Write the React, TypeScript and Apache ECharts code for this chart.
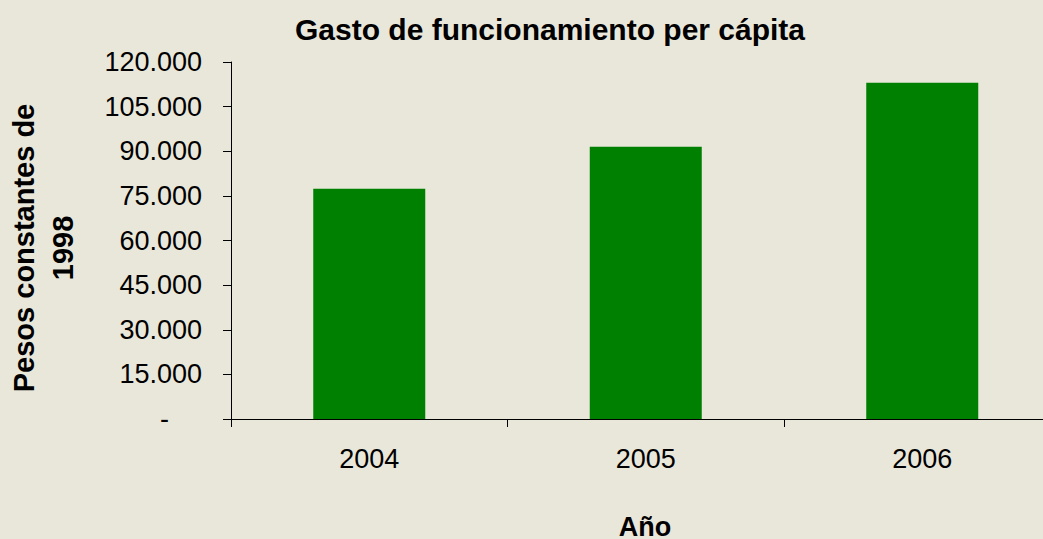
import React, { useEffect, useRef } from "react";
import * as echarts from "echarts";

const categories = ["2004", "2005", "2006"];
const gastoValues = [77400, 91500, 113000];
const yTicks = [0, 15000, 30000, 45000, 60000, 75000, 90000, 105000, 120000];

const titleText = "Gasto de funcionamiento per cápita";
const yName = "Pesos constantes de\n1998";
const xName = "Año";

const FONT = "'Liberation Sans', Arial, sans-serif";

function fmt(v: number): string {
  if (v === 0) return "{z|-}";
  return String(v).replace(/\B(?=(\d{3})+(?!\d))/g, ".");
}

export default function App() {
  const ref = useRef<HTMLDivElement>(null);
  useEffect(() => {
    if (!ref.current) return;
    const chart = echarts.init(ref.current, undefined, { renderer: "svg" });
    chart.setOption({
      animation: false,
      backgroundColor: "#E9E7DA",
      textStyle: { fontFamily: FONT },
      title: {
        text: titleText,
        left: 545,
        top: 9,
        textAlign: "center",
        textStyle: { fontFamily: FONT, fontSize: 30, fontWeight: "bold", color: "#000" },
      },
      grid: {
        left: 231,
        top: 62,
        width: 829.5,
        height: 357,
        containLabel: false,
        outerBoundsMode: "none",
      },
      xAxis: {
        type: "category",
        data: categories,
        boundaryGap: true,
        axisLine: { lineStyle: { color: "#000", width: 1 } },
        axisTick: { show: true, length: 8, alignWithLabel: false, lineStyle: { color: "#000" } },
        axisLabel: { fontFamily: FONT, fontSize: 27, color: "#000", margin: 26 },
        splitLine: { show: false },
      },
      yAxis: {
        type: "value",
        min: yTicks[0],
        max: yTicks[yTicks.length - 1],
        interval: yTicks[1] - yTicks[0],
        axisLine: { show: true, lineStyle: { color: "#000", width: 1 } },
        axisTick: { show: true, length: 8, lineStyle: { color: "#000" } },
        axisLabel: {
          fontFamily: FONT,
          fontSize: 27,
          color: "#000",
          margin: 29,
          formatter: (v: number) => fmt(v),
          rich: { z: { fontFamily: FONT, fontSize: 27, color: "#000", padding: [0, 33, 0, 0] } },
        },
        splitLine: { show: false },
      },
      graphic: [
        {
          type: "text",
          x: 43,
          y: 248,
          rotation: Math.PI / 2,
          style: {
            text: yName,
            fontFamily: FONT,
            fontSize: 29,
            fontWeight: "bold",
            fill: "#000",
            align: "center",
            verticalAlign: "middle",
            lineHeight: 39,
          },
        },
        {
          type: "text",
          x: 645,
          y: 527,
          style: {
            text: xName,
            fontFamily: FONT,
            fontSize: 27,
            fontWeight: "bold",
            fill: "#000",
            align: "center",
            verticalAlign: "middle",
          },
        },
      ],
      series: [
        {
          type: "bar",
          data: gastoValues,
          barWidth: 112,
          itemStyle: { color: "#008000" },
        },
      ],
    });
    return () => chart.dispose();
  }, []);
  return (
    <div
      ref={ref}
      style={{ position: "fixed", left: 0, top: 0, width: 1043, height: 539 }}
    />
  );
}
